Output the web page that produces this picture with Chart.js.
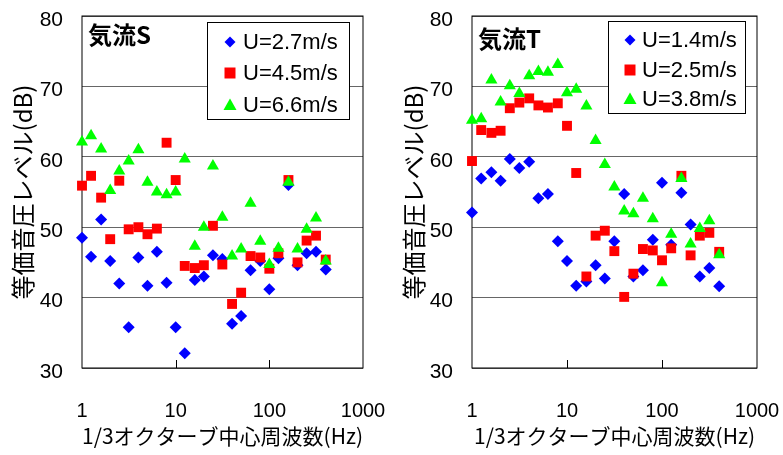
<!DOCTYPE html>
<html>
<head>
<meta charset="utf-8">
<script src="https://cdn.jsdelivr.net/npm/chart.js@4"></script>
<style>
  body { margin: 0; background: #fff; }
  .wrap { display: flex; width: 783px; height: 455px; }
  canvas { display: block; }
</style>
</head>
<body>
<div class="wrap">
  <canvas id="chartS" width="391" height="455"></canvas>
  <canvas id="chartT" width="392" height="455"></canvas>
</div>
<script>
// 1/3 octave band centre frequencies (Hz)
const freqs = [1, 1.25, 1.6, 2, 2.5, 3.15, 4, 5, 6.3, 8, 10, 12.5, 16, 20, 25, 31.5, 40, 50, 63, 80, 100, 125, 160, 200, 250, 315, 400];
const xTicks = [1, 10, 100, 1000];
const yTicks = [30, 40, 50, 60, 70, 80];

// 気流S
const labelsS = ['U=2.7m/s', 'U=4.5m/s', 'U=6.6m/s'];
const s27 = [48.5, 45.8, 51.1, 45.2, 42.0, 35.8, 45.7, 41.7, 46.5, 42.1, 35.8, 32.1, 42.5, 43.0, 46.0, 45.5, 36.3, 37.4, 43.9, 45.2, 41.2, 45.6, 56.0, 44.6, 46.3, 46.5, 44.0];
const s45 = [55.9, 57.3, 54.2, 48.3, 56.6, 49.7, 50.0, 49.0, 49.8, 62.0, 56.7, 44.5, 44.2, 44.6, 50.2, 44.7, 39.1, 40.7, 45.9, 45.7, 44.1, 46.3, 56.7, 45.0, 48.1, 48.8, 45.4];
const s66 = [62.1, 63.0, 61.1, 55.2, 58.0, 59.4, 61.0, 56.4, 55.0, 54.6, 55.0, 59.7, 47.3, 50.0, 58.7, 51.4, 45.9, 46.9, 53.4, 48.0, 44.7, 47.0, 56.4, 46.9, 49.7, 51.3, 45.2];

// 気流T
const labelsT = ['U=1.4m/s', 'U=2.5m/s', 'U=3.8m/s'];
const t14 = [52.1, 56.9, 57.8, 56.6, 59.7, 58.4, 59.3, 54.1, 54.7, 48.0, 45.2, 41.7, 42.3, 44.6, 42.7, 48.0, 54.7, 43.0, 43.9, 48.2, 56.3, 47.5, 54.9, 50.4, 43.0, 44.2, 41.6];
const t25 = [59.4, 63.8, 63.4, 63.7, 66.9, 67.7, 68.3, 67.3, 67.0, 67.6, 64.4, 57.7, 43.0, 48.8, 49.5, 46.6, 40.1, 43.4, 46.9, 46.7, 45.3, 47.0, 57.3, 46.0, 48.8, 49.2, 46.5];
const t38 = [65.2, 65.4, 70.9, 67.8, 70.1, 69.0, 71.5, 72.1, 72.0, 73.1, 69.1, 69.6, 67.2, 62.3, 58.9, 55.7, 52.3, 51.9, 54.1, 51.2, 42.1, 49.0, 56.9, 47.6, 49.8, 50.9, 46.1];

const markers = [
  { pointStyle: 'rectRot', radius: 6, color: '#0000ff', order: 2 },
  { pointStyle: 'rect', radius: 7, color: '#ff0000', order: 1 },
  { pointStyle: 'triangle', radius: 7, color: '#00ff00', order: 0 }
];

function drawMarker(ctx, style, x, y) {
  ctx.beginPath();
  if (style === 'rectRot') {
    ctx.moveTo(x, y - 5.5); ctx.lineTo(x + 5.5, y); ctx.lineTo(x, y + 5.5); ctx.lineTo(x - 5.5, y);
  } else if (style === 'rect') {
    ctx.rect(x - 5.5, y - 5.5, 11, 11);
  } else {
    ctx.moveTo(x, y - 6.5); ctx.lineTo(x + 6.5, y + 5); ctx.lineTo(x - 6.5, y + 5);
  }
  ctx.closePath();
  ctx.fill();
}

const framePlugin = {
  id: 'frame',
  beforeDatasetsDraw(chart) {
    const { ctx, chartArea: a } = chart;
    const x = chart.scales.x;
    ctx.save();
    ctx.strokeStyle = '#000';
    ctx.lineWidth = 1;
    ctx.strokeRect(a.left, a.top, a.right - a.left, a.bottom - a.top);
    ctx.beginPath();
    [10, 100].forEach(v => {
      const px = Math.round(x.getPixelForValue(v)) + 0.5;
      ctx.moveTo(px, a.bottom);
      ctx.lineTo(px, a.bottom - 8);
    });
    ctx.stroke();
    ctx.restore();
  },
  afterDatasetsDraw(chart, args, opts) {
    const { ctx } = chart;
    ctx.save();
    // heading
    ctx.fillStyle = '#000';
    ctx.font = 'bold 24px "Noto Sans CJK JP", sans-serif';
    ctx.textBaseline = 'middle';
    ctx.textAlign = 'left';
    ctx.fillText(opts.heading, opts.headX, opts.headY);
    // legend box
    const b = opts.box;
    ctx.fillStyle = '#fff';
    ctx.fillRect(b[0], b[1], b[2] - b[0], b[3] - b[1]);
    ctx.strokeStyle = '#000';
    ctx.lineWidth = 1;
    ctx.strokeRect(b[0] + 0.5, b[1] + 0.5, b[2] - b[0], b[3] - b[1]);
    ctx.font = '22px "Liberation Sans", Arial, sans-serif';
    chart.data.datasets.forEach((ds, i) => {
      const y = opts.rows[i];
      ctx.fillStyle = ds.backgroundColor;
      drawMarker(ctx, ds.pointStyle, opts.markX, y);
      ctx.fillStyle = '#000';
      ctx.fillText(ds.label, opts.textX, y + 1);
    });
    ctx.restore();
  }
};

function makeChart(id, series, labels, frame) {
  const datasets = series.map((vals, i) => ({
    label: labels[i],
    data: freqs.map((f, j) => ({ x: f, y: vals[j] })),
    showLine: false,
    pointStyle: markers[i].pointStyle,
    pointRadius: markers[i].radius,
    pointHoverRadius: markers[i].radius,
    backgroundColor: markers[i].color,
    borderColor: markers[i].color,
    pointBorderWidth: 0,
    order: markers[i].order,
    clip: false
  }));

  return new Chart(document.getElementById(id), {
    type: 'scatter',
    data: { datasets },
    options: {
      responsive: false,
      animation: false,
      layout: { padding: { top: 16, right: frame.padRight, left: 0, bottom: 0 } },
      plugins: {
        legend: { display: false },
        tooltip: { enabled: false },
        frame
      },
      scales: {
        x: {
          type: 'logarithmic',
          min: 1,
          max: 1000,
          afterBuildTicks: s => { s.ticks = xTicks.map(v => ({ value: v })); },
          afterFit: s => { s.height = 87; s.paddingLeft = 0; s.paddingRight = 0; },
          grid: { display: false },
          border: { display: false },
          ticks: {
            callback: v => String(v),
            autoSkip: false,
            maxRotation: 0,
            padding: 23,
            color: '#000',
            font: { family: '"Liberation Sans", Arial', size: 20 }
          },
          title: {
            display: true,
            text: '1/3オクターブ中心周波数(Hz)',
            color: '#000',
            padding: { top: 0, bottom: 6 },
            font: { family: '"Noto Sans CJK JP", sans-serif', size: 21 }
          }
        },
        y: {
          min: 30,
          max: 80,
          afterBuildTicks: s => { s.ticks = yTicks.map(v => ({ value: v })); },
          afterFit: s => { s.width = frame.axisWidth; s.paddingTop = 0; s.paddingBottom = 0; },
          grid: { color: '#666', lineWidth: 1, drawTicks: false },
          border: { display: false },
          ticks: {
            padding: 19,
            labelOffset: 4,
            color: '#000',
            font: { family: '"Liberation Sans", Arial', size: 21 }
          },
          title: {
            display: true,
            text: '等価音圧レベル(dB)',
            color: '#000',
            padding: { top: 8, bottom: 0 },
            font: { family: '"Noto Sans CJK JP", sans-serif', size: 24 }
          }
        }
      }
    },
    plugins: [framePlugin]
  });
}

makeChart('chartS', [s27, s45, s66], labelsS, {
  heading: '気流S', headX: 88, headY: 35,
  box: [207, 22, 349, 119], markX: 230, textX: 243, rows: [42, 73, 105],
  padRight: 28, axisWidth: 82
});

makeChart('chartT', [t14, t25, t38], labelsT, {
  heading: '気流T', headX: 87, headY: 39,
  box: [217, 21, 354, 113], markX: 239, textX: 251, rows: [40, 70, 99],
  padRight: 26, axisWidth: 81
});
</script>
</body>
</html>
